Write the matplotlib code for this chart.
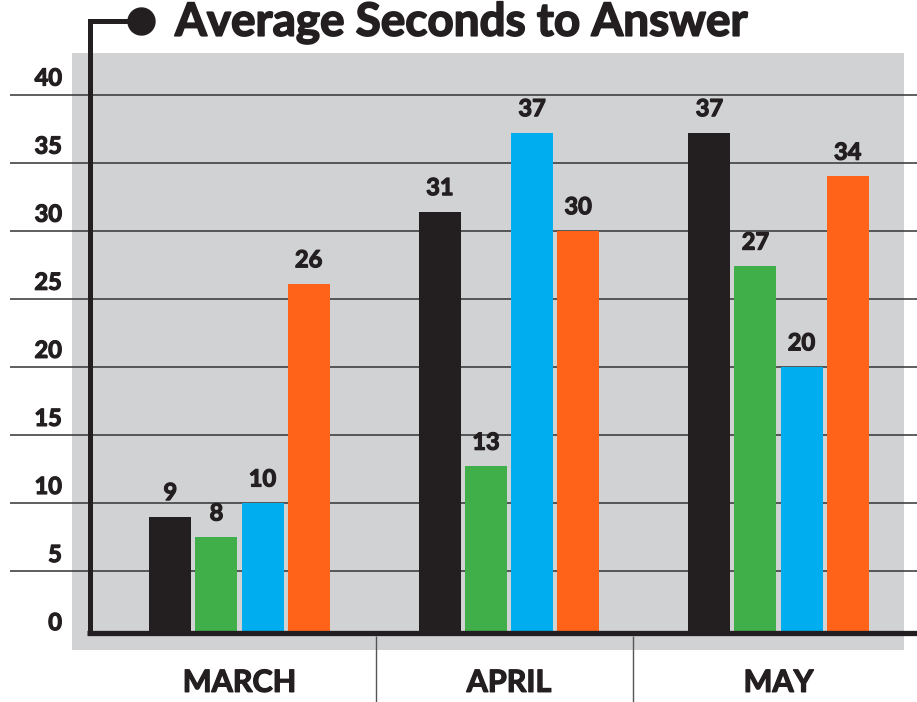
import numpy as np
import matplotlib
matplotlib.use("Agg")
import matplotlib.pyplot as plt
import matplotlib.patheffects as pe
from matplotlib.patches import Circle
from matplotlib.transforms import offset_copy

# Data
months = ["MARCH", "APRIL", "MAY"]
series_black = [9, 31.4, 37.2]
series_green = [7.5, 12.7, 27.4]
series_blue = [10, 37.2, 20]
series_orange = [26.1, 30, 34]
y_ticks = [0, 5, 10, 15, 20, 25, 30, 35, 40]
title = "Average Seconds to Answer"

# Style
ink = "#231f20"
colors = [ink, "#40ae49", "#00adee", "#ff6319"]
bg_gray = "#d1d2d4"
plt.rcParams["font.family"] = ["Lato", "DejaVu Sans"]
# Lato bold plus a thin stroke to get closer to the heavy geometric face
fat = [pe.withStroke(linewidth=0.9, foreground=ink)]

W, H = 917, 702
fig = plt.figure(figsize=(W / 100, H / 100), dpi=100)
fig.patch.set_facecolor("white")

# main axes sits on the gray panel (pixels 72..904 x, 53..650 y)
ax = fig.add_axes([72 / W, (H - 650) / H, 832 / W, 597 / H])
ax.set_facecolor(bg_gray)
ax.set_xlim(-0.6215, 2.4657)
ax.set_ylim(-0.80, 43.05)
for s in ax.spines.values():
    s.set_visible(False)
ax.set_xticks([])
ax.set_yticks([])

x = np.arange(len(months))
width = 0.156
pitch = 0.171
all_series = [series_black, series_green, series_blue, series_orange]
base = 0.48  # where the thick baseline sits

for k, (vals, col) in enumerate(zip(all_series, colors)):
    xs = x + (k - 1.5) * pitch
    ax.bar(xs, vals, width=width, color=col, zorder=3)
    for xi, v in zip(xs, vals):
        ax.annotate(f"{v:.0f}", (xi, v), xytext=(0, 9), textcoords="offset points",
                    ha="center", va="bottom", fontsize=17, fontweight="bold",
                    color=ink, zorder=5, path_effects=fat)

# hide bar bottoms below the baseline
ax.axhspan(-0.8, base, color=bg_gray, zorder=4, lw=0)

# grid lines run past the panel on both sides
ytr = ax.get_yaxis_transform()
ax.hlines(y_ticks[1:], -0.0745, 1.0156, transform=ytr, color="#333333",
          lw=1.1, clip_on=False, zorder=2)
lab_tr = offset_copy(ytr, fig=fig, x=0, y=5, units="dots")
for t in y_ticks:
    ax.text(-0.012, t, str(t), transform=lab_tr, ha="right", va="bottom",
            fontsize=17, fontweight="bold", color=ink, path_effects=fat)

# thick baseline
ax.hlines([base], 0.018, 1.0156, transform=ytr, color=ink, lw=3.8,
          clip_on=False, zorder=6, capstyle="butt")

# category labels and separators
xtr = ax.get_xaxis_transform()
for xi, m in zip(x, months):
    ax.text(xi, -0.055, m, transform=xtr, ha="center", va="center",
            fontsize=22, fontweight="bold", color=ink, path_effects=fat)
ax.vlines([0.5065, 1.460], -0.0871, 0.0235, transform=xtr, color="#555555",
          lw=1.0, clip_on=False, zorder=6)

# decoration layer in pixel coords: L-shaped axis with dot, and title
deco = fig.add_axes([0, 0, 1, 1], zorder=10)
deco.set_xlim(0, W)
deco.set_ylim(H, 0)
deco.axis("off")
deco.patch.set_alpha(0)
deco.plot([89.5, 89.5, 130], [634, 20.5, 20.5], color=ink, lw=3.6,
          solid_joinstyle="miter", solid_capstyle="butt")
deco.add_patch(Circle((141.5, 21.5), 13.5, color=ink))
deco.text(175, 23, title, ha="left", va="center", fontsize=33,
          fontweight="bold", color=ink,
          path_effects=[pe.withStroke(linewidth=1.2, foreground=ink)])

fig.savefig("out.png", dpi=100)
